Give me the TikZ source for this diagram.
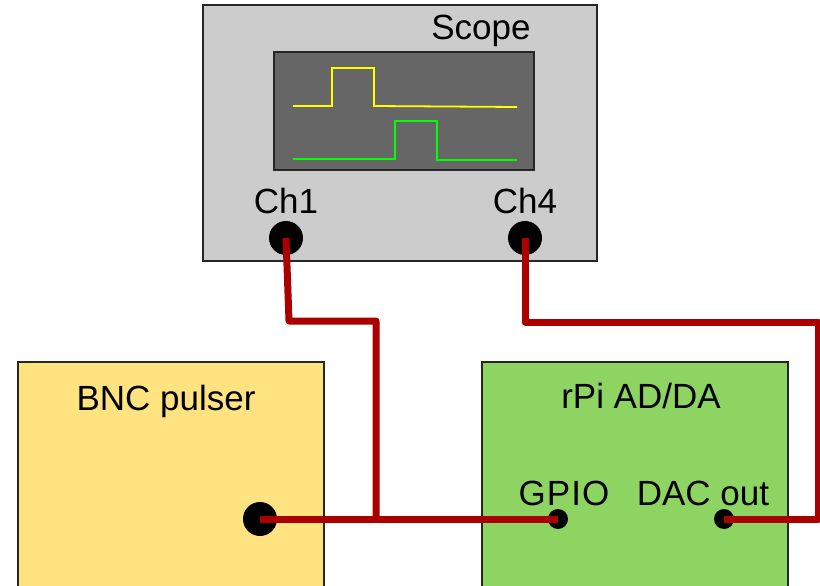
\documentclass[tikz,border=0pt]{standalone}
\usepackage{fontspec}
\setmainfont{Liberation Sans}
\definecolor{scopegray}{HTML}{CCCCCC}
\definecolor{screengray}{HTML}{666666}
\definecolor{pulseryellow}{HTML}{FFE381}
\definecolor{rpigreen}{HTML}{8ED462}
\definecolor{wirered}{HTML}{AA0000}
\definecolor{traceyellow}{HTML}{FFFF00}
\definecolor{tracegreen}{HTML}{00FF00}
\begin{document}
\begin{tikzpicture}[x=1pt,y=-1pt,
  boxstyle/.style={draw=black!85,line width=1.8pt},
  lbl/.style={font=\fontsize{35}{38}\selectfont,anchor=base,inner sep=0pt},
  bigjack/.style={circle,fill=black,minimum size=34pt,inner sep=0pt},
  smalljack/.style={circle,fill=black,minimum size=20pt,inner sep=0pt},
  wire/.style={draw=wirered,line width=7pt,line join=round},
  trace/.style={line width=1.8pt}]
\useasboundingbox (0,0) rectangle (820,586);
\clip (0,0) rectangle (820,586);
% Scope
\path[boxstyle,fill=scopegray] (203,5) rectangle (597,261);
\path[draw=black!85,line width=1.5pt,fill=screengray] (274,52) rectangle (534,170);
\draw[trace,traceyellow] (293,106) -- (332,106) -- (332,68) -- (374,68) -- (374,106) -- (517,107);
\draw[trace,tracegreen] (293,159) -- (395,159) -- (395,121) -- (437,121) -- (437,160) -- (517,160);
\node[lbl] (scopelbl) at (481,40) {Scope};
\node[lbl] (ch1lbl) at (286,213) {Ch1};
\node[lbl] (ch4lbl) at (525,213) {Ch4};
\node[bigjack] (ch1) at (286,238) {};
\node[bigjack] (ch4) at (525,238) {};
% BNC pulser
\path[boxstyle,fill=pulseryellow] (18,362) rectangle (324,600);
\node[lbl] (bnclbl) at (166,410) {BNC pulser};
\node[bigjack] (bnc) at (260,519) {};
% rPi
\path[boxstyle,fill=rpigreen] (482,362) rectangle (788,600);
\node[lbl] (rpilbl) at (641,408) {rPi AD/DA};
\node[lbl] (gpiolbl) at (564,505) {G\kern1ptP\kern1ptI\kern1ptO};
\node[lbl] (daclbl) at (703,505) {DAC out};
\node[smalljack] (gpio) at (558,519) {};
\node[smalljack] (dac) at (724,519) {};
% wires
\coordinate (junc) at (376,519);
\coordinate (bend1) at (289,321);
\coordinate (bend2) at (376,321);
\coordinate (bend3) at (818,322);
\path[wire] (bnc.center) -- (gpio.center);
\path[wire] (ch1.center) -- (bend1) -- (bend2) -- (junc);
\path[wire] (ch4.center) |- (bend3) |- (dac.center);
\end{tikzpicture}
\end{document}
